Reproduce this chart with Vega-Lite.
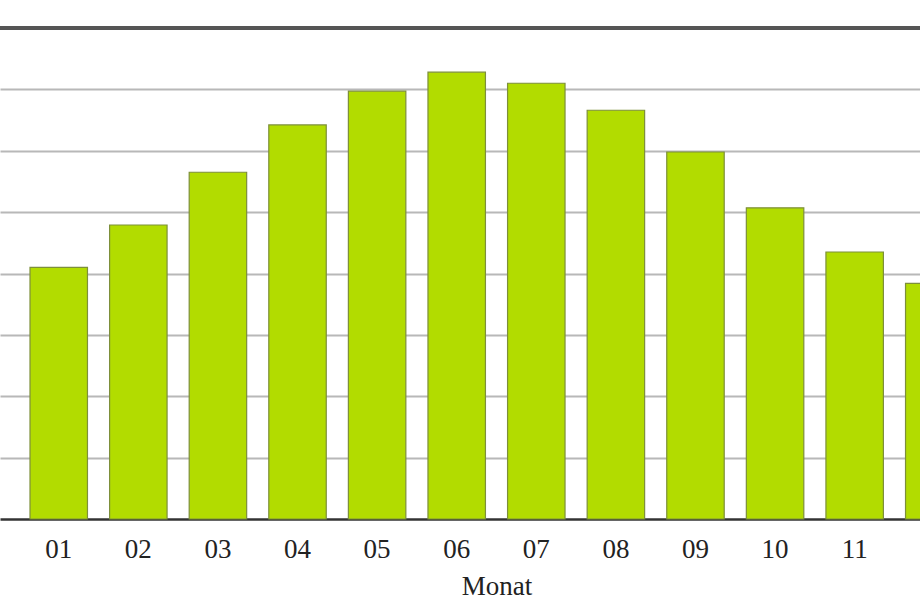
{
  "$schema": "https://vega.github.io/schema/vega-lite/v6.json",
  "width": 920,
  "height": 491,
  "autosize": "none",
  "padding": {"top": 28, "left": 0, "right": 0, "bottom": 94},
  "background": "white",
  "config": {"view": {"stroke": null}, "font": "Liberation Serif"},
  "data": {"values": [
    {"Monat": "01", "Wert": 4.10},
    {"Monat": "02", "Wert": 4.79},
    {"Monat": "03", "Wert": 5.65},
    {"Monat": "04", "Wert": 6.42},
    {"Monat": "05", "Wert": 6.97},
    {"Monat": "06", "Wert": 7.28},
    {"Monat": "07", "Wert": 7.10},
    {"Monat": "08", "Wert": 6.66},
    {"Monat": "09", "Wert": 5.98},
    {"Monat": "10", "Wert": 5.07},
    {"Monat": "11", "Wert": 4.35},
    {"Monat": "12", "Wert": 3.84}
  ]},
  "layer": [
    {
      "mark": {"type": "bar", "color": "#b2dc00", "stroke": "#7d8f3a", "strokeWidth": 1.2},
      "encoding": {
        "x": {
          "field": "Monat", "type": "ordinal",
          "scale": {"range": [0, 993], "paddingInner": 0.278, "paddingOuter": 0.377},
          "axis": {
            "title": "Monat", "titleFont": "Liberation Serif", "titleFontSize": 27, "titleFontWeight": "normal", "titleColor": "#222",
            "titlePadding": 11,
            "labelFont": "Liberation Serif", "labelFontSize": 27, "labelColor": "#222", "labelAngle": 0, "labelPadding": 17,
            "ticks": false, "domainColor": "#333", "domainWidth": 2.5, "grid": false
          }
        },
        "y": {
          "field": "Wert", "type": "quantitative",
          "scale": {"domain": [0, 8], "nice": false},
          "axis": {
            "title": null, "labels": false, "ticks": false, "domain": false,
            "grid": true, "gridColor": "#b8b8b8", "gridWidth": 2, "values": [1, 2, 3, 4, 5, 6, 7]
          }
        }
      }
    },
    {
      "mark": {"type": "rule", "color": "#555555", "strokeWidth": 3},
      "encoding": {"y": {"datum": 8, "type": "quantitative"}}
    }
  ]
}
